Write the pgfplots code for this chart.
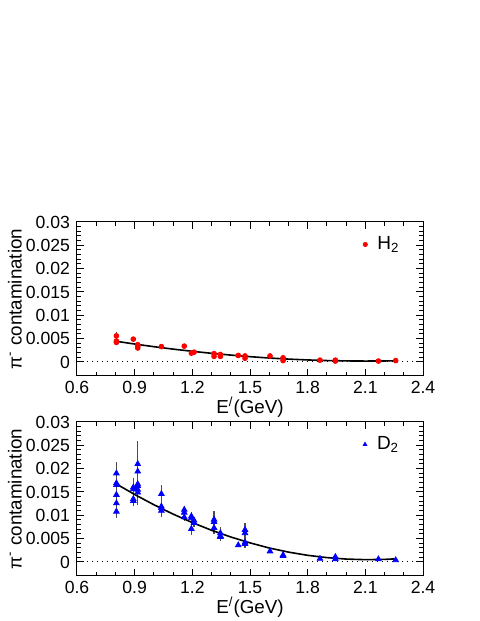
\documentclass[border=0pt]{standalone}
\usepackage{fontspec}
\setmainfont{Liberation Sans}
\usepackage{pgfplots}
\usepackage{pgfplotstable}
\pgfplotsset{compat=1.18}

\pgfplotstableread{
x y e
0.805 0.0056 0.0008
0.805 0.0045 0.0006
0.805 0.0042 0.0006
0.893 0.0049 0.0003
0.916 0.0037 0.0006
0.916 0.0034 0.0005
0.916 0.0030 0.0005
1.039 0.0033 0.0003
1.158 0.0034 0.0003
1.195 0.0019 0.0003
1.209 0.0021 0.0003
1.313 0.0018 0.0004
1.313 0.0012 0.0003
1.346 0.0016 0.0003
1.346 0.0012 0.0003
1.439 0.0014 0.0002
1.474 0.0013 0.0003
1.474 0.0008 0.0003
1.604 0.0013 0.0002
1.672 0.0009 0.0002
1.672 0.0003 0.0002
1.864 0.0004 0.0001
1.944 0.0004 0.0001
1.944 0.0002 0.0001
2.168 0.0002 0.0001
2.258 0.0003 0.0001
}\Hdata

\pgfplotstableread{
x y e
0.805 0.0190 0.0024
0.805 0.0169 0.0020
0.805 0.0165 0.0020
0.805 0.0144 0.0018
0.805 0.0126 0.0016
0.805 0.0108 0.0014
0.893 0.0160 0.0020
0.893 0.0156 0.0020
0.893 0.0135 0.0016
0.893 0.0131 0.0012
0.916 0.0210 0.0050
0.916 0.0194 0.0040
0.916 0.0167 0.0030
0.916 0.0163 0.0030
0.916 0.0155 0.0030
0.916 0.0149 0.0026
1.039 0.0146 0.0018
1.039 0.0119 0.0014
1.039 0.0116 0.0014
1.039 0.0110 0.0013
1.158 0.0112 0.0008
1.158 0.0106 0.0008
1.158 0.0096 0.0008
1.195 0.0098 0.0010
1.195 0.0094 0.0010
1.195 0.0071 0.0013
1.209 0.0089 0.0008
1.209 0.0084 0.0008
1.313 0.0091 0.0019
1.313 0.0086 0.0015
1.313 0.0073 0.0012
1.346 0.0062 0.0014
1.346 0.0056 0.0008
1.346 0.0054 0.0008
1.439 0.0036 0.0004
1.474 0.0069 0.0014
1.474 0.0062 0.0012
1.474 0.0042 0.0010
1.474 0.0039 0.0009
1.604 0.0023 0.0003
1.672 0.0015 0.0003
1.672 0.0013 0.0003
1.864 0.0007 0.0002
1.944 0.0011 0.0002
1.944 0.0006 0.0002
2.168 0.0006 0.0002
2.258 0.0004 0.0002
}\Ddata

\pgfplotstableread{
x y
0.81 0.00440
0.90 0.00385
1.00 0.00328
1.10 0.00276
1.20 0.00229
1.30 0.00186
1.40 0.00148
1.50 0.00114
1.60 0.00085
1.70 0.00062
1.80 0.00044
1.90 0.00031
2.00 0.00023
2.10 0.00020
2.20 0.00022
2.26 0.00026
}\Hfit

\pgfplotstableread{
x y
0.81 0.01660
0.90 0.01446
1.00 0.01227
1.10 0.01026
1.20 0.00844
1.30 0.00680
1.40 0.00536
1.50 0.00410
1.60 0.00300
1.70 0.00212
1.80 0.00143
1.90 0.00094
2.00 0.00063
2.10 0.00050
2.20 0.00056
2.26 0.00068
}\Dfit

\pgfplotsset{
  myaxis/.style={
    scale only axis, width=173pt, height=77pt,
    xmin=0.6, xmax=2.4, ymin=-0.003, ymax=0.03,
    xtick={0.6,0.9,1.2,1.5,1.8,2.1,2.4},
    xticklabels={0.6,0.9,1.2,1.5,1.8,2.1,2.4},
    ytick={0,0.005,0.01,0.015,0.02,0.025,0.03},
    yticklabels={0,0.005,0.01,0.015,0.02,0.025,0.03},
    scaled x ticks=false, scaled y ticks=false,
    minor x tick num=2, minor y tick num=4,
    major tick length=3.5pt, minor tick length=2pt,
    tick style={black, line width=0.5pt},
    axis line style={line width=0.5pt},
    tick align=inside,
    ticklabel style={font=\fontsize{8.8}{10}\selectfont},
    xticklabel style={inner sep=2.5pt},
    /pgf/number format/assume math mode=true,
    xlabel={E\smash{\textsuperscript{/}}(GeV)},
    ylabel={π\textsuperscript{-} contamination},
    label style={font=\fontsize{9.4}{11}\selectfont},
    xlabel style={at={(axis description cs:0.5,0)}, anchor=base, yshift=-19pt, inner sep=1pt},
    ylabel style={at={(axis description cs:-0.16,0.5)}, anchor=base},
    legend style={draw=none, fill=none, font=\fontsize{9.5}{11}\selectfont,
      at={(axis description cs:0.826,0.854)}, anchor=west, inner sep=0pt},
    legend image code/.code={\draw[#1, mark size=1.05pt] plot coordinates {(0pt,0pt)};
      \path[draw=none, fill=none] (0pt,0pt) -- (4pt,0pt);},
  },
  errstyle/.style={error bars/.cd, y dir=both, y explicit, error mark=none,
    error bar style={black!70, line width=0.6pt}},
}

\begin{document}
\begin{tikzpicture}
\useasboundingbox (0,0) rectangle (240pt,310.5pt);
\begin{axis}[myaxis, at={(38.5pt,122.5pt)}, anchor=south west]
\addplot[black, dotted, line width=0.5pt, forget plot] coordinates {(0.6,0) (2.4,0)};
\addplot[only marks, mark=*, mark size=1.2pt, color=red, errstyle]
  table[x=x, y=y, y error=e] {\Hdata};
\addlegendentry{H\textsubscript{2}}
\addplot[black, line width=0.8pt, no marks, forget plot] table[x=x, y=y] {\Hfit};
\end{axis}
\begin{axis}[myaxis, at={(38.5pt,22.5pt)}, anchor=south west]
\addplot[black, dotted, line width=0.5pt, forget plot] coordinates {(0.6,0) (2.4,0)};
\addplot[only marks, mark=triangle*, mark size=1.6pt, color=blue, errstyle]
  table[x=x, y=y, y error=e] {\Ddata};
\addlegendentry{D\textsubscript{2}}
\addplot[black, line width=0.8pt, no marks, forget plot] table[x=x, y=y] {\Dfit};
\end{axis}
\end{tikzpicture}
\end{document}
